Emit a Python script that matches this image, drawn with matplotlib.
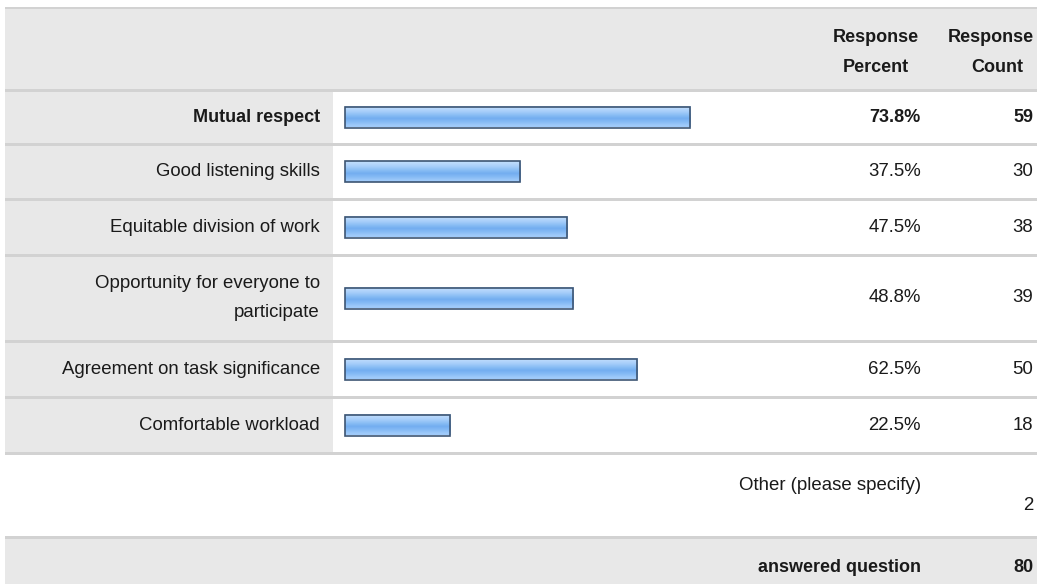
import numpy as np
import matplotlib
matplotlib.use("Agg")
import matplotlib.pyplot as plt
from matplotlib.patches import Rectangle

plt.rcParams['font.family'] = ['Liberation Sans', 'DejaVu Sans']

# survey answers
options = [
    "Mutual respect",
    "Good listening skills",
    "Equitable division of work",
    "Opportunity for everyone to\nparticipate",
    "Agreement on task significance",
    "Comfortable workload",
]
percents = [73.8, 37.5, 47.5, 48.8, 62.5, 22.5]
counts = [59, 30, 38, 39, 50, 18]
other_label = "Other (please specify)"
other_count = 2
answered_label = "answered question"
answered_count = 80
header_pct = ["Response", "Percent"]
header_cnt = ["Response", "Count"]

W, H = 1037, 584
# row boundaries (pixels, top down): header, options, other, footer
row_edges = [8, 90, 144, 199, 255, 341, 397, 453, 537, 586]
LABEL_COL = (5, 333)
BAR_LEFT = 345
BAR_FULL = 467.5      # width of a 100% bar
PCT_RIGHT = 921
CNT_RIGHT = 1033
GREY = "#e8e8e8"
LINE = "#d2d2d2"
INK = "#1a1a1a"

fig = plt.figure(figsize=(W / 100, H / 100), dpi=100)
ax = fig.add_axes([0, 0, 1, 1])
ax.set_xlim(0, W)
ax.set_ylim(H, 0)
ax.axis("off")

# bar gradient (top to bottom)
grad = np.array([[0.74, 0.86, 0.99], [0.66, 0.81, 0.98], [0.55, 0.75, 0.96],
                 [0.45, 0.68, 0.94], [0.52, 0.73, 0.96], [0.62, 0.79, 0.98]])
grad_img = grad[:, None, :]

fs = 13.4     # regular text
fsb = 13.0    # bold text


def row_band(top, bottom, fill_all):
    if fill_all:
        ax.add_patch(Rectangle((LABEL_COL[0], top), W - LABEL_COL[0], bottom - top,
                               facecolor=GREY, edgecolor="none"))
    ax.add_patch(Rectangle((LABEL_COL[0], bottom - 1.5), W - LABEL_COL[0], 3,
                           facecolor=LINE, edgecolor="none", zorder=3))


# header row
ax.add_patch(Rectangle((LABEL_COL[0], row_edges[0] - 1), W - LABEL_COL[0], 2,
                       facecolor=LINE, edgecolor="none", zorder=3))
row_band(row_edges[0], row_edges[1], True)
for y, a, b in zip((37, 67), header_pct, header_cnt):
    ax.text(876, y, a, ha="center", va="center", fontsize=fsb,
            fontweight="bold", color=INK)
    ax.text(1034 if b == "Response" else 997, y, b,
            ha="right" if b == "Response" else "center", va="center",
            fontsize=fsb, fontweight="bold", color=INK)

# option rows
for i, (lab, pct, cnt) in enumerate(zip(options, percents, counts)):
    top, bottom = row_edges[i + 1], row_edges[i + 2]
    mid = (top + bottom) / 2
    ax.add_patch(Rectangle((LABEL_COL[0], top), LABEL_COL[1] - LABEL_COL[0],
                           bottom - top, facecolor=GREY, edgecolor="none"))
    row_band(top, bottom, False)
    bold = i == 0
    weight = "bold" if bold else "normal"
    size = fsb if bold else fs
    ax.text(LABEL_COL[1] - 13, mid, lab, ha="right", va="center", fontsize=size,
            fontweight=weight, color=INK, linespacing=1.85)
    bw = pct / 100 * BAR_FULL
    ax.imshow(grad_img, extent=(BAR_LEFT, BAR_LEFT + bw, mid + 10.5, mid - 10.5),
              aspect="auto", interpolation="bilinear", zorder=4)
    ax.add_patch(Rectangle((BAR_LEFT, mid - 10.5), bw, 21, facecolor="none",
                           edgecolor="#3d5573", linewidth=1.2, zorder=5))
    ax.text(PCT_RIGHT, mid, f"{pct:.1f}%", ha="right", va="center", fontsize=size,
            fontweight=weight, color=INK)
    ax.text(CNT_RIGHT, mid, str(cnt), ha="right", va="center", fontsize=size,
            fontweight=weight, color=INK)

# other row
top, bottom = row_edges[7], row_edges[8]
row_band(top, bottom, False)
ax.text(PCT_RIGHT, top + 32, other_label, ha="right", va="center", fontsize=fs,
        color=INK)
ax.text(CNT_RIGHT, top + 52, str(other_count), ha="right", va="center",
        fontsize=fs, color=INK)

# footer row
top, bottom = row_edges[8], row_edges[9]
ax.add_patch(Rectangle((LABEL_COL[0], top), W - LABEL_COL[0], bottom - top,
                       facecolor=GREY, edgecolor="none"))
ax.text(PCT_RIGHT, 568, answered_label, ha="right", va="center", fontsize=fsb,
        fontweight="bold", color=INK)
ax.text(CNT_RIGHT, 568, str(answered_count), ha="right", va="center",
        fontsize=fsb, fontweight="bold", color=INK)

fig.savefig("out.png", dpi=100)
